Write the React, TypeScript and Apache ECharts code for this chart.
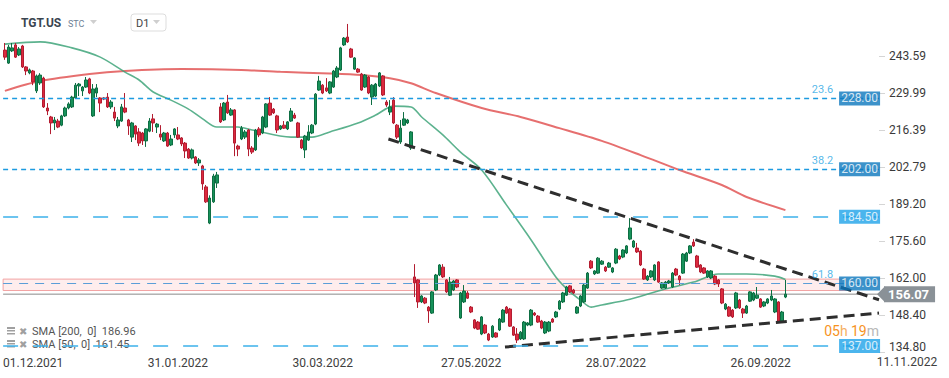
import { useEffect, useRef } from 'react';
import * as echarts from 'echarts';

// ---------- data ----------
const START_DATE = '2021-11-18';
const SLOT_COUNT = 248;
const HOLIDAYS = ['2021-11-25', '2021-12-24', '2022-01-17', '2022-02-21', '2022-05-30', '2022-06-20', '2022-07-04', '2022-09-05'];
const xTickLabels = ['01.12.2021', '31.01.2022', '30.03.2022', '27.05.2022', '28.07.2022', '26.09.2022'];
const axisEndLabel = '11.11.2022';
const yTickValues = [134.8, 148.4, 162.0, 175.6, 189.2, 202.79, 216.39, 229.99, 243.59];

// [open, close, low, high]
const ohlc: number[][] = [
  [245.8, 243.2, 242.2, 248.4], [241.0, 246.9, 240.7, 247.7], [245.5, 246.6, 245.1, 248.4], [247.7, 243.2, 242.9, 248.4],
  [244.0, 246.2, 243.6, 246.9], [247.3, 239.6, 239.2, 247.7], [239.6, 238.1, 236.6, 239.9], [237.4, 238.5, 236.9, 239.0],
  [238.1, 234.1, 232.9, 238.5], [230.8, 236.3, 230.0, 236.8], [233.7, 236.6, 233.0, 237.3], [235.5, 224.9, 224.5, 236.0],
  [224.5, 223.4, 221.9, 226.3], [221.2, 219.0, 214.9, 221.6], [219.0, 220.1, 216.4, 221.2], [219.7, 217.5, 217.1, 220.5],
  [218.2, 221.6, 217.8, 222.0], [221.6, 224.5, 221.2, 225.0], [224.5, 226.0, 224.0, 226.6], [224.9, 228.5, 224.5, 229.0],
  [228.2, 232.9, 227.8, 233.7], [232.6, 233.3, 228.9, 233.7], [230.8, 232.2, 228.9, 232.6], [232.2, 234.8, 231.9, 235.9],
  [235.2, 230.0, 229.6, 235.6], [221.6, 231.5, 221.2, 233.3], [230.0, 231.9, 228.5, 233.3], [228.2, 226.3, 223.0, 228.5],
  [228.2, 227.8, 227.4, 228.5], [228.5, 224.9, 224.5, 230.0], [224.9, 226.7, 224.1, 227.4], [223.0, 220.8, 219.7, 224.9],
  [217.9, 220.1, 217.1, 221.2], [219.7, 224.9, 219.4, 226.0], [224.5, 223.0, 222.6, 230.0], [220.1, 217.9, 214.6, 220.5],
  [213.8, 219.0, 212.0, 219.4], [217.9, 214.9, 212.7, 218.2], [215.7, 211.6, 210.5, 217.1], [215.3, 212.4, 210.9, 215.7],
  [212.4, 216.8, 210.2, 217.1], [216.0, 219.7, 215.6, 220.8], [220.5, 219.0, 215.7, 222.3], [217.5, 218.6, 215.3, 219.0],
  [214.9, 213.8, 212.7, 218.2], [212.4, 215.3, 212.0, 215.7], [215.3, 210.5, 210.2, 215.7], [210.9, 213.1, 210.5, 214.6],
  [214.6, 216.8, 213.5, 217.1], [214.6, 213.1, 212.7, 217.5], [213.5, 211.3, 210.5, 213.8], [211.6, 208.7, 206.1, 212.0],
  [209.4, 206.1, 205.8, 209.8], [206.1, 209.1, 205.6, 209.6], [206.5, 204.3, 203.9, 206.8], [204.3, 205.4, 203.2, 206.1],
  [203.2, 196.6, 194.4, 203.6], [195.5, 190.0, 189.6, 196.2], [182.2, 191.4, 181.8, 192.4], [190.0, 199.5, 189.6, 200.3],
  [196.9, 199.9, 195.1, 201.0], [224.9, 219.4, 219.0, 226.3], [220.1, 226.3, 219.7, 226.7], [226.7, 222.7, 222.3, 229.3],
  [221.9, 223.8, 221.6, 224.5], [223.8, 211.6, 206.8, 224.1], [210.5, 209.4, 206.8, 211.0], [213.1, 217.1, 212.7, 217.9],
  [213.8, 215.7, 213.1, 216.4], [216.4, 209.4, 206.8, 216.8], [209.8, 208.3, 207.6, 210.5], [209.1, 216.4, 208.7, 216.8],
  [216.8, 214.6, 213.8, 217.5], [215.3, 221.2, 214.9, 221.6], [217.5, 226.0, 217.1, 226.3], [226.3, 221.9, 221.6, 228.5],
  [224.1, 222.7, 222.3, 224.5], [221.6, 216.4, 215.3, 222.0], [216.8, 217.9, 216.4, 218.2], [218.2, 217.1, 216.8, 219.7],
  [216.8, 219.4, 216.4, 219.7], [219.7, 223.4, 219.4, 224.5], [221.9, 220.8, 220.5, 222.7], [219.0, 213.8, 213.5, 219.4],
  [212.7, 209.8, 209.4, 213.1], [209.1, 214.2, 206.1, 214.6], [212.7, 215.7, 212.4, 218.2], [215.3, 218.2, 214.9, 218.6],
  [218.6, 229.6, 218.2, 230.0], [231.1, 234.4, 230.8, 236.3], [232.9, 230.0, 229.6, 233.3], [231.9, 230.8, 230.4, 235.5],
  [230.0, 234.1, 229.6, 234.4], [232.2, 238.1, 231.9, 238.5], [235.9, 239.2, 235.5, 239.9], [238.5, 246.6, 238.1, 247.0],
  [247.7, 250.2, 247.3, 250.6], [250.6, 248.8, 248.4, 255.4], [246.2, 243.2, 242.9, 246.6], [238.8, 242.9, 238.5, 243.2],
  [238.8, 237.7, 237.4, 239.2], [237.0, 231.1, 230.8, 237.4], [232.2, 236.6, 231.9, 237.0], [235.9, 230.0, 229.6, 236.3],
  [228.5, 232.9, 225.6, 233.3], [228.9, 233.3, 228.5, 233.7], [232.6, 237.4, 232.2, 237.7], [236.3, 229.3, 228.9, 236.6],
  [226.7, 225.6, 224.9, 227.4], [223.0, 224.9, 221.9, 227.4], [227.4, 219.0, 218.6, 228.5], [218.2, 213.8, 213.1, 218.6],
  [212.0, 217.1, 211.3, 220.1], [218.2, 220.5, 217.9, 223.0], [219.0, 220.1, 218.6, 220.5], [209.8, 215.7, 209.1, 216.0],
  [162.4, 160.2, 155.0, 167.1], [161.3, 153.2, 151.0, 161.6], [153.2, 155.4, 152.8, 155.7], [154.6, 152.8, 152.4, 155.0],
  [151.3, 149.9, 145.5, 151.7], [149.1, 156.9, 148.8, 157.2], [157.6, 163.1, 157.2, 163.5], [163.1, 166.8, 162.7, 167.1],
  [166.0, 162.4, 162.0, 167.1], [161.3, 156.9, 156.5, 161.6], [155.7, 160.5, 155.4, 162.4], [157.6, 160.9, 157.2, 161.3],
  [161.3, 158.7, 158.3, 161.6], [147.3, 156.5, 147.0, 156.9], [153.2, 157.2, 152.8, 159.4], [156.5, 154.6, 154.3, 157.2],
  [151.3, 149.5, 149.1, 151.7], [146.6, 143.6, 143.2, 146.9], [145.8, 143.2, 142.9, 146.2], [141.4, 147.7, 141.0, 148.0],
  [144.7, 141.8, 141.4, 145.1], [141.4, 139.2, 138.8, 141.8], [140.3, 144.3, 140.0, 144.7], [141.8, 140.3, 140.0, 142.1],
  [142.9, 146.9, 142.5, 147.3], [145.8, 150.2, 145.5, 150.6], [151.3, 149.1, 148.8, 151.7], [150.6, 144.3, 144.0, 151.0],
  [144.0, 141.0, 140.7, 144.3], [141.4, 139.2, 138.1, 143.6], [139.6, 142.1, 139.2, 142.5], [139.6, 145.8, 139.2, 146.2],
  [144.7, 145.5, 144.3, 145.8], [144.7, 150.2, 144.3, 150.6], [149.1, 148.4, 148.0, 149.5], [148.0, 145.8, 145.5, 148.4],
  [146.2, 143.6, 143.2, 146.6], [141.8, 145.8, 141.4, 146.2], [142.5, 145.8, 142.1, 146.2], [146.9, 145.8, 145.5, 147.3],
  [147.7, 149.5, 147.3, 149.9], [150.6, 153.5, 150.2, 153.9], [153.2, 156.5, 152.8, 156.9], [155.7, 158.7, 155.4, 159.1],
  [159.1, 156.9, 156.5, 159.4], [157.6, 156.5, 156.1, 158.0], [149.1, 151.3, 148.8, 151.7], [151.7, 155.4, 151.3, 155.7],
  [153.2, 159.4, 152.8, 159.8], [158.3, 163.8, 158.0, 164.2], [168.2, 165.7, 165.3, 168.6], [163.5, 164.6, 163.1, 164.9],
  [163.8, 169.3, 163.5, 169.7], [167.1, 168.2, 166.8, 168.6], [166.0, 164.6, 164.2, 166.4], [166.0, 167.5, 165.7, 167.9],
  [164.2, 165.7, 163.8, 166.0], [167.5, 172.6, 167.1, 173.0], [170.1, 169.0, 168.6, 170.5], [169.7, 172.3, 169.3, 172.6],
  [171.2, 173.8, 170.8, 174.1], [176.3, 180.4, 175.9, 184.0], [173.4, 175.6, 173.0, 176.0], [173.0, 171.6, 171.2, 174.9],
  [171.9, 166.8, 166.4, 172.3], [165.3, 161.6, 161.3, 165.7], [161.3, 162.7, 160.9, 163.1], [162.4, 164.6, 162.0, 164.9],
  [161.3, 166.8, 160.9, 167.1], [167.9, 160.5, 160.2, 168.2], [158.3, 160.2, 158.0, 160.5], [158.3, 160.5, 158.0, 160.9],
  [160.2, 160.9, 159.8, 161.3], [158.7, 163.8, 158.3, 164.2], [165.3, 163.1, 162.7, 165.7], [162.7, 161.3, 159.4, 163.1],
  [163.8, 170.8, 163.5, 171.2], [168.2, 171.2, 167.9, 171.6], [171.2, 173.8, 170.8, 174.1], [175.2, 173.8, 173.4, 176.3],
  [170.1, 166.0, 165.7, 170.5], [166.8, 164.2, 163.8, 167.1], [165.7, 163.8, 163.5, 166.0], [162.4, 164.6, 162.0, 164.9],
  [162.0, 164.6, 161.6, 164.9], [162.7, 159.8, 159.4, 163.1], [161.3, 159.8, 158.7, 161.6], [158.0, 152.8, 152.4, 158.3],
  [150.6, 152.4, 150.2, 152.8], [151.3, 148.0, 147.7, 151.7], [150.2, 147.7, 147.3, 150.6], [151.0, 156.5, 150.6, 156.9],
  [153.9, 151.0, 150.6, 154.3], [150.6, 149.1, 147.3, 151.0], [149.1, 151.7, 148.8, 152.1], [153.5, 156.9, 153.2, 157.2],
  [153.9, 156.5, 153.5, 156.9], [154.6, 155.7, 154.3, 158.7], [154.3, 151.3, 151.0, 154.6], [151.7, 153.2, 151.3, 153.5],
  [152.8, 154.3, 152.4, 154.6], [153.9, 155.4, 153.5, 157.6], [149.5, 154.3, 149.1, 154.6], [153.2, 145.8, 145.5, 153.5],
  [146.2, 149.5, 145.8, 149.9], [155.0, 156.07, 154.6, 161.3],
];

// moving averages: [slot index, value]
const sma200Points: number[][] = [
  [0, 230.8], [10, 234.4], [24, 237.0], [34, 238.1], [50, 238.8], [67, 238.5], [78, 237.8], [92, 237.2],
  [101, 236.6], [109, 235.4], [115, 233.6], [122, 230.0], [135, 224.5], [146, 221.2], [157, 217.1],
  [169, 212.4], [180, 207.2], [191, 201.7], [203, 196.2], [210, 191.8], [221, 186.96],
];
const sma50Points: number[][] = [
  [0, 248.0], [10, 248.8], [19, 246.6], [27, 243.2], [34, 237.7], [38, 234.8], [42, 230.4], [47, 227.4],
  [52, 224.1], [56, 220.5], [60, 217.5], [66, 217.5], [70, 216.4], [81, 213.8], [87, 213.8], [92, 215.7],
  [100, 219.0], [105, 221.9], [110, 225.2], [115, 224.9], [118, 221.2], [124, 214.6], [129, 208.3],
  [135, 201.7], [142, 188.9], [149, 176.0], [156, 162.4], [160, 156.9], [163, 153.9], [166, 151.3],
  [169, 152.1], [176, 153.9], [186, 157.6], [195, 160.5], [202, 163.5], [210, 163.5], [218, 162.7], [221, 161.45],
];
const sma200Last = 186.96;
const sma50Last = 161.45;
const lastClose = 156.07;

const trendDown: number[][] = [[108.6, 213.1], [247.5, 154.0]];
const trendUp: number[][] = [[141.6, 136.6], [247.5, 149.1]];

const levelPrices = [228.0, 202.0, 184.5, 160.0, 137.0];
const levelFib = ['23.6', '38.2', '', '61.8', ''];
const bandRange = [157.4, 161.6];
const bandEndSlot = 238;
const countdown = ['05', '19'];

// ---------- helpers ----------
function buildDates(): string[] {
  const out: string[] = [];
  const d = new Date(START_DATE + 'T12:00:00Z');
  while (out.length < SLOT_COUNT) {
    const dow = d.getUTCDay();
    const iso = d.toISOString().slice(0, 10);
    if (dow !== 0 && dow !== 6 && !HOLIDAYS.includes(iso)) {
      const [y, m, dd] = iso.split('-');
      out.push(`${dd}.${m}.${y}`);
    }
    d.setUTCDate(d.getUTCDate() + 1);
  }
  return out;
}

const FONT = 'Roboto, "Open Sans", sans-serif';
const BOX_SLOT = 242;
const FIB_SLOT = 231.5;

export default function App() {
  const ref = useRef<HTMLDivElement>(null);
  useEffect(() => {
    document.body.style.margin = '0';
    if (!ref.current) return;
    const chart = echarts.init(ref.current, undefined, { renderer: 'svg' });
    const dates = buildDates();
    const isFib = (i: number) => levelFib[i] !== '';
    const yMin = yTickValues[0];

    const option: any = {
      animation: false,
      backgroundColor: '#ffffff',
      textStyle: { fontFamily: FONT },
      grid: { left: 3, right: 70, top: 19.6, bottom: 26 },
      xAxis: [
        {
          type: 'category', data: dates, boundaryGap: true,
          axisLine: { show: false, onZero: false }, axisTick: { show: false }, splitLine: { show: false },
          axisLabel: {
            interval: (_i: number, v: string) => xTickLabels.includes(v),
            color: '#404040', fontSize: 12, fontFamily: FONT, margin: 5,
          },
        },
        { type: 'value', min: -0.5, max: SLOT_COUNT - 0.5, show: false, axisLine: { onZero: false } },
      ],
      yAxis: [
        {
          type: 'value', position: 'right', min: yMin, max: 257,
          splitLine: { show: false }, axisLine: { show: false, onZero: false },
          axisTick: { show: true, length: 6, lineStyle: { color: '#d5d5d5' }, customValues: yTickValues },
          axisLabel: {
            customValues: yTickValues,
            formatter: (v: number) => (Math.abs(v - yMin) < 0.001 ? `{b|${v.toFixed(2)}}` : v.toFixed(2)),
            rich: { b: { padding: [0, 0, 11, 0], fontSize: 12, color: '#3a3a3a', fontFamily: FONT } },
            color: '#3a3a3a', fontSize: 12, fontFamily: FONT, margin: 10,
          },
        },
      ],
      series: [
        {
          name: 'levels', type: 'line', xAxisIndex: 1, yAxisIndex: 0, z: 1,
          data: [[-0.5, lastClose], [SLOT_COUNT - 0.5, lastClose]],
          symbol: 'none', lineStyle: { color: '#8a8a8a', width: 1 }, silent: true,
          endLabel: {
            show: true, formatter: () => lastClose.toFixed(2), color: '#ffffff', backgroundColor: '#8a9197',
            padding: [2, 6, 1, 4], fontSize: 13, fontWeight: 'bold', fontFamily: FONT, distance: 5,
          },
          markArea: {
            silent: true,
            itemStyle: { color: 'rgba(252, 214, 214, 0.45)', borderColor: '#f2a3a3', borderWidth: 1 },
            data: [[{ xAxis: -0.5, yAxis: bandRange[0] }, { xAxis: bandEndSlot, yAxis: bandRange[1] }]],
          },
          markLine: {
            silent: true, symbol: 'none', label: { show: false },
            data: levelPrices.map((p, i) => ({
              yAxis: p,
              lineStyle: i === 3
                ? { color: '#5a9ed8', width: 1.2, type: [9, 7] }
                : isFib(i)
                  ? { color: '#1d9be0', width: 1.3, type: [5, 4] }
                  : { color: '#3db1ea', width: 1.5, type: [15, 15] },
            })),
          },
        },
        {
          name: 'TGT.US', type: 'candlestick', data: ohlc, z: 3, barWidth: 3,
          itemStyle: { color: '#17925a', color0: '#dc2a3e', borderColor: '#0e6e43', borderColor0: '#b31d31', borderWidth: 1 },
        },
        {
          name: 'SMA200', type: 'line', xAxisIndex: 1, data: sma200Points, symbol: 'none', smooth: 0.3, z: 2,
          lineStyle: { color: '#e25656', width: 2, opacity: 0.85 },
        },
        {
          name: 'SMA50', type: 'line', xAxisIndex: 1, data: sma50Points, symbol: 'none', smooth: 0.3, z: 2,
          lineStyle: { color: '#3fa57a', width: 1.6, opacity: 0.85 },
        },
        {
          name: 'trendDown', type: 'line', xAxisIndex: 1, data: trendDown, symbol: 'none', z: 4,
          lineStyle: { color: '#2e2e2e', width: 3, type: [11, 6] },
        },
        {
          name: 'trendUp', type: 'line', xAxisIndex: 1, data: trendUp, symbol: 'none', z: 4,
          lineStyle: { color: '#2e2e2e', width: 3, type: [11, 6] },
        },
        {
          name: 'levelBoxes', type: 'scatter', xAxisIndex: 1, z: 6, symbol: 'rect', symbolSize: [41, 14],
          data: levelPrices.map((p, i) => ({
            value: [BOX_SLOT, p],
            itemStyle: { color: isFib(i) ? '#0b77bd' : '#1ea3e8' },
          })),
          label: {
            show: true, position: 'inside', color: '#ffffff', fontSize: 12, fontFamily: FONT,
            formatter: (pr: any) => pr.value[1].toFixed(2),
          },
        },
        {
          name: 'fibLabels', type: 'scatter', xAxisIndex: 1, z: 6, symbolSize: 0,
          data: levelPrices.map((p, i) => ({ value: [FIB_SLOT, p], name: levelFib[i] })).filter((d) => d.name !== ''),
          label: {
            show: true, position: 'top', distance: 3, color: '#2aa6e4', fontSize: 11, fontFamily: FONT,
            formatter: (pr: any) => pr.name,
          },
        },
      ],
    };
    chart.setOption(option);

    const tagY = chart.convertToPixel({ yAxisIndex: 0 }, lastClose) as number;
    const gridRight = 879;
    const legendRow = (y: number, text: string) => ({
      type: 'group',
      children: [
        { type: 'rect', shape: { x: 7, y: y - 4, width: 8, height: 2 }, style: { fill: '#a0a0a0' } },
        { type: 'rect', shape: { x: 7, y: y - 1, width: 8, height: 1.5 }, style: { fill: '#a0a0a0' } },
        { type: 'rect', shape: { x: 7, y: y + 2, width: 8, height: 1.5 }, style: { fill: '#a0a0a0' } },
        { type: 'text', x: 19, y, style: { text: '✖', fill: '#a0a0a0', font: `10px ${FONT}`, textVerticalAlign: 'middle' } },
        { type: 'text', x: 32, y, style: { text, fill: '#555555', font: `11px ${FONT}`, textVerticalAlign: 'middle' } },
      ],
    });
    chart.setOption({
      graphic: [
        { type: 'text', x: 21, y: 23, style: { text: 'TGT.US', fill: '#3a4550', font: `bold 12px ${FONT}`, textVerticalAlign: 'middle' } },
        { type: 'text', x: 68, y: 24, style: { text: 'STC', fill: '#6f8196', font: `9px ${FONT}`, textVerticalAlign: 'middle' } },
        { type: 'polygon', shape: { points: [[90, 20], [97, 20], [93.5, 24]] }, style: { fill: '#cfcfcf' } },
        { type: 'rect', shape: { x: 131, y: 14, width: 35, height: 17, r: 3 }, style: { fill: '#ffffff', stroke: '#dddddd', lineWidth: 1 } },
        { type: 'text', x: 136, y: 23, style: { text: 'D1', fill: '#444444', font: `11px ${FONT}`, textVerticalAlign: 'middle' } },
        { type: 'polygon', shape: { points: [[153, 20], [160, 20], [156.5, 24]] }, style: { fill: '#cfcfcf' } },
        legendRow(331, `SMA [200,  0]  ${sma200Last.toFixed(2)}`),
        legendRow(344, `SMA [50,  0]  ${sma50Last.toFixed(2)}`),
        { type: 'text', x: 907, y: 362, style: { text: axisEndLabel, fill: '#404040', font: `12px ${FONT}`, textAlign: 'center', textVerticalAlign: 'middle' } },
        { type: 'polygon', shape: { points: [[gridRight - 2, tagY], [gridRight + 6, tagY - 8], [gridRight + 6, tagY + 8]] }, style: { fill: '#8a9197' } },
        {
          type: 'text', x: gridRight, y: 331,
          style: {
            text: `{o|${countdown[0]}}{h|h} {o|${countdown[1]}}{m|m}`,
            textAlign: 'right', textVerticalAlign: 'middle',
            rich: {
              o: { fill: '#f7931e', font: `14px ${FONT}` },
              h: { fill: '#f5b060', font: `14px ${FONT}` },
              m: { fill: '#b8b8b8', font: `14px ${FONT}` },
            },
          },
        },
      ],
    });
    return () => chart.dispose();
  }, []);
  return <div ref={ref} style={{ width: 949, height: 378 }} />;
}
